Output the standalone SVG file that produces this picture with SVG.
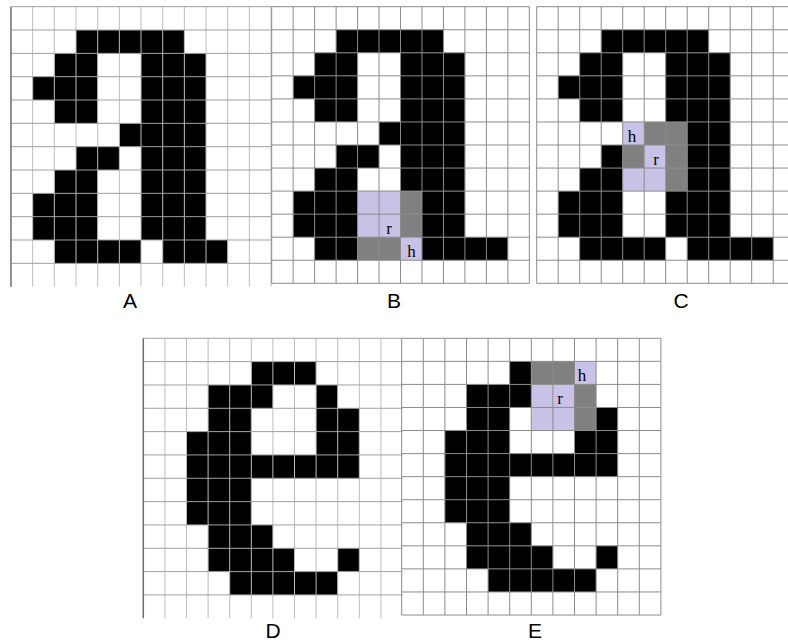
<svg xmlns="http://www.w3.org/2000/svg" width="788" height="643" viewBox="0 0 788 643">
<style>
.k{fill:#000}
.g{fill:#808080}
.l{fill:#c8c2e6}
.gl{fill:none;stroke:#8c8c8c;stroke-width:1;vector-effect:non-scaling-stroke}
.gv{fill:none;stroke:#bdbdbd;stroke-width:1;vector-effect:non-scaling-stroke}
.gh{fill:none;stroke:#a0a0a0;stroke-width:1;vector-effect:non-scaling-stroke}
.ge{fill:none;stroke:#6e6e6e;stroke-width:1.5;vector-effect:non-scaling-stroke}
.cell{font-family:"Liberation Serif","Times New Roman",serif;font-size:17px;fill:#000;text-anchor:middle}
.lab{font-family:"Liberation Sans",Arial,sans-serif;font-size:21px;fill:#000;text-anchor:middle}
</style>
<rect width="788" height="643" fill="#fff"/>

<g id="panelA">
<g transform="translate(11,6.7) scale(21.67,23.33)">
<rect class="k" x="3" y="1" width="5" height="1"/>
<rect class="k" x="6" y="2" width="3" height="8"/>
<rect class="k" x="5" y="5" width="1" height="1"/>
<rect class="k" x="2" y="2" width="2" height="1"/>
<rect class="k" x="1" y="3" width="3" height="1"/>
<rect class="k" x="2" y="4" width="2" height="1"/>
<rect class="k" x="3" y="6" width="2" height="1"/>
<rect class="k" x="2" y="7" width="2" height="1"/>
<rect class="k" x="1" y="8" width="3" height="2"/>
<rect class="k" x="2" y="10" width="4" height="1"/>
<rect class="k" x="7" y="10" width="3" height="1"/>
<path class="gv" d="M1 0V12M2 0V12M3 0V12M4 0V12M5 0V12M6 0V12M7 0V12M8 0V12M9 0V12M10 0V12M11 0V12M12 0V12"/>
<path class="gh" d="M0 0H12M0 1H12M0 2H12M0 3H12M0 4H12M0 5H12M0 6H12M0 7H12M0 8H12M0 9H12M0 10H12M0 11H12"/>
<path class="ge" d="M0 0V12"/>
</g>
<text class="lab" x="130" y="308">A</text>
</g>

<g id="panelB">
<g transform="translate(271.7,6.7) scale(21.47,23.05)">
<rect class="k" x="3" y="1" width="5" height="1"/>
<rect class="k" x="6" y="2" width="3" height="6"/>
<rect class="k" x="5" y="5" width="1" height="1"/>
<rect class="k" x="2" y="2" width="2" height="1"/>
<rect class="k" x="1" y="3" width="3" height="1"/>
<rect class="k" x="2" y="4" width="2" height="1"/>
<rect class="k" x="3" y="6" width="2" height="1"/>
<rect class="k" x="2" y="7" width="2" height="1"/>
<rect class="k" x="1" y="8" width="3" height="2"/>
<rect class="l" x="4" y="8" width="2" height="2"/>
<rect class="g" x="6" y="8" width="1" height="2"/>
<rect class="k" x="7" y="8" width="2" height="2"/>
<rect class="k" x="2" y="10" width="2" height="1"/>
<rect class="g" x="4" y="10" width="2" height="1"/>
<rect class="l" x="6" y="10" width="1" height="1"/>
<rect class="k" x="7" y="10" width="4" height="1"/>
<path class="gl" d="M0 0V12M1 0V12M2 0V12M3 0V12M4 0V12M5 0V12M6 0V12M7 0V12M8 0V12M9 0V12M10 0V12M11 0V12M12 0V12M0 0H12M0 1H12M0 2H12M0 3H12M0 4H12M0 5H12M0 6H12M0 7H12M0 8H12M0 9H12M0 10H12M0 11H12M0 12H12"/>
</g>
<text class="cell" x="389" y="234">r</text>
<text class="cell" x="411.5" y="257">h</text>
<text class="lab" x="394" y="308">B</text>
</g>

<g id="panelC">
<g transform="translate(536.7,6.7) scale(21.5,23.05)">
<rect class="k" x="3" y="1" width="5" height="1"/>
<rect class="k" x="6" y="2" width="3" height="3"/>
<rect class="k" x="2" y="2" width="2" height="1"/>
<rect class="k" x="1" y="3" width="3" height="1"/>
<rect class="k" x="2" y="4" width="2" height="1"/>
<rect class="l" x="4" y="5" width="1" height="1"/>
<rect class="g" x="5" y="5" width="2" height="1"/>
<rect class="k" x="7" y="5" width="2" height="3"/>
<rect class="k" x="3" y="6" width="1" height="1"/>
<rect class="g" x="4" y="6" width="1" height="1"/>
<rect class="l" x="5" y="6" width="1" height="1"/>
<rect class="g" x="6" y="6" width="1" height="2"/>
<rect class="k" x="2" y="7" width="2" height="1"/>
<rect class="l" x="4" y="7" width="2" height="1"/>
<rect class="k" x="1" y="8" width="3" height="2"/>
<rect class="k" x="6" y="8" width="3" height="2"/>
<rect class="k" x="2" y="10" width="4" height="1"/>
<rect class="k" x="7" y="10" width="4" height="1"/>
<path class="gl" d="M0 0V12M1 0V12M2 0V12M3 0V12M4 0V12M5 0V12M6 0V12M7 0V12M8 0V12M9 0V12M10 0V12M11 0V12M12 0V12M0 0H12M0 1H12M0 2H12M0 3H12M0 4H12M0 5H12M0 6H12M0 7H12M0 8H12M0 9H12M0 10H12M0 11H12M0 12H12"/>
</g>
<text class="cell" x="632" y="142">h</text>
<text class="cell" x="656" y="165">r</text>
<text class="lab" x="681" y="308">C</text>
</g>

<g id="panelD">
<g transform="translate(143.3,338.3) scale(21.6,23.33)">
<rect class="k" x="5" y="1" width="3" height="1"/>
<rect class="k" x="3" y="2" width="3" height="1"/>
<rect class="k" x="8" y="2" width="1" height="1"/>
<rect class="k" x="3" y="3" width="2" height="1"/>
<rect class="k" x="8" y="3" width="2" height="2"/>
<rect class="k" x="2" y="4" width="3" height="4"/>
<rect class="k" x="2" y="5" width="8" height="1"/>
<rect class="k" x="3" y="8" width="3" height="1"/>
<rect class="k" x="3" y="9" width="4" height="1"/>
<rect class="k" x="9" y="9" width="1" height="1"/>
<rect class="k" x="4" y="10" width="5" height="1"/>
<path class="gv" d="M1 0V12M2 0V12M3 0V12M4 0V12M5 0V12M6 0V12M7 0V12M8 0V12M9 0V12M10 0V12M11 0V12"/>
<path class="gh" d="M0 0H12M0 1H12M0 2H12M0 3H12M0 4H12M0 5H12M0 6H12M0 7H12M0 8H12M0 9H12M0 10H12M0 11H12"/>
<path class="ge" d="M0 0V12"/>
</g>
<text class="lab" x="273" y="638">D</text>
</g>

<g id="panelE">
<g transform="translate(401.7,338.3) scale(21.6,23.06)">
<rect class="k" x="5" y="1" width="1" height="1"/>
<rect class="g" x="6" y="1" width="2" height="1"/>
<rect class="l" x="8" y="1" width="1" height="1"/>
<rect class="k" x="3" y="2" width="3" height="1"/>
<rect class="l" x="6" y="2" width="2" height="2"/>
<rect class="g" x="8" y="2" width="1" height="2"/>
<rect class="k" x="3" y="3" width="2" height="1"/>
<rect class="k" x="9" y="3" width="1" height="1"/>
<rect class="k" x="2" y="4" width="3" height="4"/>
<rect class="k" x="8" y="4" width="2" height="1"/>
<rect class="k" x="2" y="5" width="8" height="1"/>
<rect class="k" x="3" y="8" width="3" height="1"/>
<rect class="k" x="3" y="9" width="4" height="1"/>
<rect class="k" x="9" y="9" width="1" height="1"/>
<rect class="k" x="4" y="10" width="5" height="1"/>
<path class="gl" d="M0 0V12M1 0V12M2 0V12M3 0V12M4 0V12M5 0V12M6 0V12M7 0V12M8 0V12M9 0V12M10 0V12M11 0V12M12 0V12M0 0H12M0 1H12M0 2H12M0 3H12M0 4H12M0 5H12M0 6H12M0 7H12M0 8H12M0 9H12M0 10H12M0 11H12M0 12H12"/>
</g>
<text class="cell" x="582" y="381">h</text>
<text class="cell" x="560" y="404">r</text>
<text class="lab" x="535" y="638">E</text>
</g>
</svg>
